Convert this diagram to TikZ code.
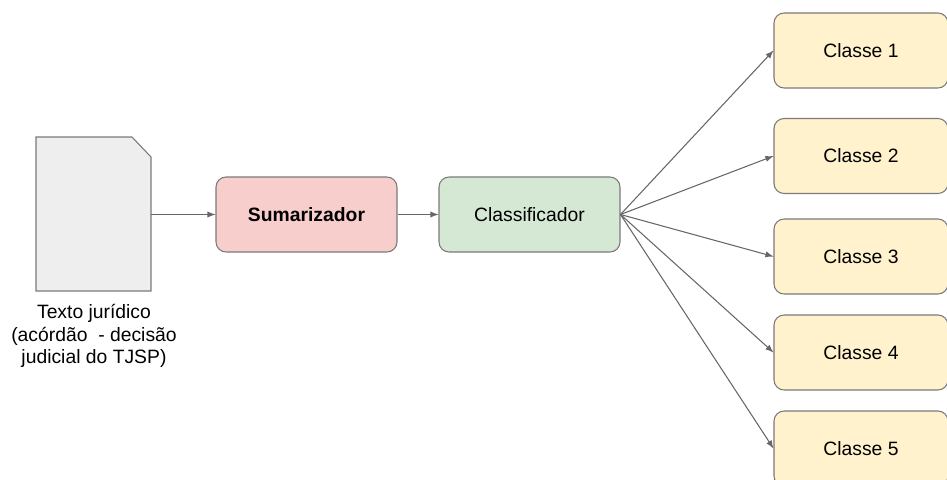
\documentclass[tikz,border=0pt]{standalone}
\usepackage{fontspec}
\setmainfont{Liberation Sans}

\definecolor{fundoDoc}{HTML}{EEEEEE}
\definecolor{fundoSum}{HTML}{F8CECC}
\definecolor{fundoCla}{HTML}{D5E8D4}
\definecolor{fundoClasse}{HTML}{FFF2CC}
\definecolor{borda}{HTML}{7A7A7A}
\definecolor{seta}{HTML}{666666}

\begin{document}
\begin{tikzpicture}[x=0.02cm, y=-0.02cm, line width=0.6pt,
    caixa/.style={draw=borda, rounded corners=0.2cm, minimum width=3.62cm, minimum height=1.5cm, font=\fontsize{11}{13}\selectfont},
    classe/.style={caixa, fill=fundoClasse, minimum width=3.48cm},
    ligacao/.style={-latex, draw=seta}]
                    \useasboundingbox (0,0) rectangle (947,480);
                    \draw[borda, fill=fundoDoc] (36,137) -- (132,137) -- (151,157) -- (151,291) -- (36,291) -- cycle;
                    \coordinate (doc) at (151,214.5);
                    \node[align=center, font=\fontsize{11}{13}\selectfont] (legenda) at (94,336) {Texto jurídico\\(acórdão \ - decisão\\judicial do TJSP)};

                    \node[caixa, fill=fundoSum, font=\fontsize{11}{13}\selectfont\bfseries] (sumarizador) at (306.5,214.5) {Sumarizador};
                    \node[caixa, fill=fundoCla] (classificador) at (529.5,214.5) {Classificador};

                    \draw[ligacao] (doc) -- (sumarizador.west);
                    \draw[ligacao] (sumarizador) -- (classificador);

                    \foreach \i/\y in {1/50.5, 2/156, 3/256.5, 4/352.5, 5/448.5} {
                        \node[classe] (classe\i) at (861,\y) {Classe \i};
                        \draw[ligacao] (classificador.east) -- (classe\i.west);
                    }
                    %saidas%
                \end{tikzpicture}
\end{document}
